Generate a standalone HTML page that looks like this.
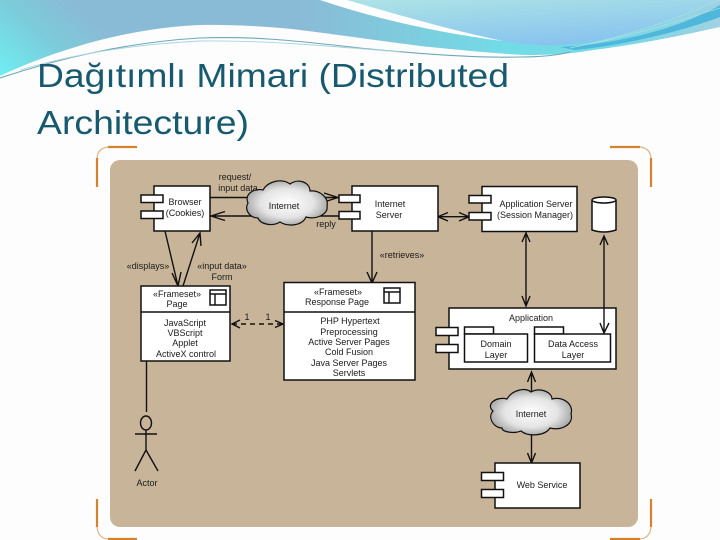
<!DOCTYPE html>
<html><head><meta charset="utf-8"><style>
html,body{margin:0;padding:0;background:#fdfdfd}
svg{display:block}
text{font-family:"Liberation Sans",sans-serif;font-size:9px;fill:#1a1a1a;text-anchor:middle}
.t{font-size:33.5px;fill:#17596e;text-anchor:start}
.b{fill:#fff;stroke:#111;stroke-width:1.5}
.l{fill:none;stroke:#111;stroke-width:1.4}
.o{fill:none;stroke:#d5822f;stroke-width:2.2}
.c{fill:none;stroke:#d9b68c;stroke-width:1.2}
</style></head><body>
<svg width="720" height="540" viewBox="0 0 720 540" xmlns="http://www.w3.org/2000/svg">
<defs>
<linearGradient id="g1" gradientUnits="userSpaceOnUse" x1="0" y1="78" x2="70" y2="0"><stop offset="0" stop-color="#6ef0f2"/><stop offset="0.6" stop-color="#7ccada"/><stop offset="1" stop-color="#8abbd6"/></linearGradient>
<linearGradient id="g2" x1="0" y1="0" x2="0.5" y2="1"><stop offset="0" stop-color="#aee3e6"/><stop offset="1" stop-color="#88c4ee"/></linearGradient>
<linearGradient id="g3" gradientUnits="userSpaceOnUse" x1="300" y1="0" x2="720" y2="0"><stop offset="0" stop-color="#8abbd6"/><stop offset="0.5" stop-color="#72dce6"/><stop offset="0.75" stop-color="#74d8e6"/><stop offset="1" stop-color="#a0d2e2"/></linearGradient>
<radialGradient id="cl" cx="0.5" cy="0.5" r="0.6"><stop offset="0" stop-color="#fff"/><stop offset="0.55" stop-color="#e4e4e4"/><stop offset="1" stop-color="#8f8f8f"/></radialGradient>
</defs>
<rect width="720" height="540" fill="#fdfdfd"/>
<path d="M0 0H325V33C290 28 240 24 200 25C130 28 60 48 0 76Z" fill="url(#g1)"/>
<path d="M300 0H720V27C680 36 640 44 593 50C570 54 550 55 527 55C500 54 460 50 420 46C390 42 360 38 324 33L300 30Z" fill="url(#g3)"/>
<path d="M560 47C620 44 680 28 720 5V17C680 32 620 46 575 50Z" fill="#4fb6dc"/>
<path d="M347 0C400 20 460 34 503 41C520 44 540 46 560 45C600 44 650 30 720 1V0Z" fill="url(#g2)"/>
<path d="M320 0C380 20 440 33 503 41C450 30 395 14 347 0Z" fill="#fff"/>
<path d="M0 78C60 58 130 42 200 38C250 36 290 40 360 48C420 54 480 58 520 57C535 57 555 56 570 52" fill="none" stroke="#6da8ba" stroke-width="1.1"/>
<path d="M20 70C80 52 140 44 200 41C260 40 330 46 400 52" fill="none" stroke="#a9d4dc" stroke-width="0.9"/>
<path d="M570 48C620 38 670 22 720 0M590 44C640 34 680 20 720 8" fill="none" stroke="#a8dce6" stroke-width="0.8"/>

<text class="t" x="37" y="87" textLength="472" lengthAdjust="spacingAndGlyphs">Dağıtımlı Mimari (Distributed</text>
<text class="t" x="37" y="134" textLength="212" lengthAdjust="spacingAndGlyphs">Architecture)</text>

<path class="o" d="M97 187V158M108 147H137"/><path class="c" d="M97 158Q98 148 108 147"/>
<path class="o" d="M651 187V158M640 147H610"/><path class="c" d="M651 158Q650 148 640 147"/>
<path class="o" d="M97 499V527M108 539H137"/><path class="c" d="M97 527Q98 538 108 539"/>
<path class="o" d="M651 499V527M640 539H610"/><path class="c" d="M651 527Q650 538 640 539"/>

<rect x="110" y="160" width="528" height="367" rx="10" fill="#c8b599"/>

<!-- connectors -->
<path class="l" d="M210 197.500H338M324 193L338 197.500L324 202"/>
<path class="l" d="M352 216H211M225 211.500L211 216L225 220.500"/>
<path class="l" d="M165 231L178 286M172 273L178 286L181 272"/>
<path class="l" d="M183 286L200 233M192 243L200 233L201 246"/>
<path class="l" d="M372 231V283M367 272L372 283L377 272"/>
<path class="l" d="M438 216.700H469M448 212.500L438 216.700L448 221M459 212.500L469 216.700L459 221"/>
<path class="l" stroke-width="2" d="M526 233V306M522 242L526 233L530 242M522 296L526 306L530 296"/>
<path class="l" stroke-dasharray="5 4" d="M232 324H283"/>
<path class="l" d="M240 320L232 324L240 328M275 320.500L283 324L275 327.500"/>
<path class="l" d="M146.500 361V412"/>
<path class="l" stroke-width="2" d="M531.500 372V392M531.500 433V463M527.500 382L531.500 372L535.500 382M527.500 453L531.500 463L535.500 453"/>

<!-- clouds -->
<path d="M248 203C244 194 254 188 263 190C268 181 282 178 290 184C298 178 310 182 310 191C320 190 329 198 327 206C329 214 316 220 306 217C302 226 288 227 280 222C272 227 260 224 258 218C250 218 244 210 248 203Z" fill="url(#cl)" stroke="#111" stroke-width="1.2"/>
<path d="M493 411C485 404 497 396 507 399C512 390 525 387 531 392C540 387 552 392 552 399C564 396 574 405 571 414C574 424 562 431 550 428C545 436 528 437 521 431C514 434 502 432 502 428C494 428 487 418 493 411Z" fill="url(#cl)" stroke="#111" stroke-width="1.2"/>

<!-- Browser -->
<rect class="b" x="154" y="186" width="56" height="45"/>
<rect class="b" x="141" y="195" width="22" height="7.5"/><rect class="b" x="141" y="211" width="22" height="7.5"/>
<text x="185" y="205">Browser</text><text x="185" y="216">(Cookies)</text>
<!-- Internet server -->
<rect class="b" x="352" y="186" width="86" height="45"/>
<rect class="b" x="339" y="195" width="21" height="7.5"/><rect class="b" x="339" y="211.500" width="21" height="7.5"/>
<text x="390" y="207">Internet</text><text x="389" y="218">Server</text>
<!-- App server -->
<rect class="b" x="482" y="186.500" width="95" height="45"/>
<rect class="b" x="469" y="195.500" width="22" height="7.5"/><rect class="b" x="469" y="212.500" width="22" height="7.5"/>
<text x="536" y="207">Application Server</text><text x="535" y="218">(Session Manager)</text>
<!-- DB -->
<path class="b" d="M592 200V230Q604 234 616 230V200"/><ellipse class="b" cx="604" cy="200" rx="12" ry="3"/>
<!-- Frameset page -->
<rect class="b" x="141" y="286" width="89" height="75"/><path class="l" d="M141 312H230"/>
<rect class="b" x="210" y="290" width="16" height="15"/><path class="l" d="M210 294H226M215 294V305"/>
<text x="177" y="297">«Frameset»</text><text x="177" y="307">Page</text>
<text x="185" y="326">JavaScript</text><text x="185" y="336">VBScript</text><text x="185" y="346">Applet</text><text x="186" y="357">ActiveX control</text>
<!-- Response page -->
<rect class="b" x="284" y="282.500" width="131" height="97.500"/><path class="l" d="M284 312H415"/>
<rect class="b" x="384" y="288" width="16" height="15"/><path class="l" d="M384 292H400M389 292V303"/>
<text x="338" y="295">«Frameset»</text><text x="337" y="305">Response Page</text>
<text x="350" y="324">PHP Hypertext</text><text x="349" y="335">Preprocessing</text><text x="349" y="345">Active Server Pages</text><text x="349" y="355">Cold Fusion</text><text x="349" y="366">Java Server Pages</text><text x="349" y="376">Servlets</text>
<!-- Application -->
<rect class="b" x="449" y="308" width="167" height="61"/>
<rect class="b" x="436" y="327.500" width="22" height="8"/><rect class="b" x="436" y="344.500" width="22" height="8"/>
<text x="531" y="321">Application</text>
<rect class="b" x="464.500" y="327" width="29" height="7"/><rect class="b" x="464.500" y="334" width="63" height="28"/>
<rect class="b" x="534.500" y="327" width="29" height="7"/><rect class="b" x="534.500" y="334" width="76" height="28"/>
<text x="496" y="347">Domain</text><text x="496" y="358">Layer</text>
<text x="573" y="347">Data Access</text><text x="573" y="358">Layer</text>
<path class="l" d="M604 237V333M600 245L604 236L608 245M600 323L604 333L609 323"/>
<!-- Web service -->
<rect class="b" x="495" y="463" width="85" height="45"/>
<rect class="b" x="481.500" y="472.500" width="22" height="8"/><rect class="b" x="481.500" y="489.500" width="22" height="8"/>
<text x="542" y="488">Web Service</text>
<!-- Actor -->
<ellipse class="l" cx="146" cy="423" rx="5.500" ry="7"/>
<path class="l" d="M146 430V450M135 434H157M146 450L135 471M146 450L158 471"/>
<text x="147" y="486">Actor</text>

<!-- labels -->
<text x="235" y="180">request/</text><text x="238" y="191">input data</text>
<text x="284" y="209">Internet</text>
<text x="326" y="227">reply</text>
<text x="148" y="269">«displays»</text>
<text x="222" y="269">«input data»</text><text x="222" y="280">Form</text>
<text x="402" y="258">«retrieves»</text>
<text x="247" y="320">1</text><text x="268" y="320">1</text>
<text x="531" y="417">Internet</text>
</svg>
</body></html>
